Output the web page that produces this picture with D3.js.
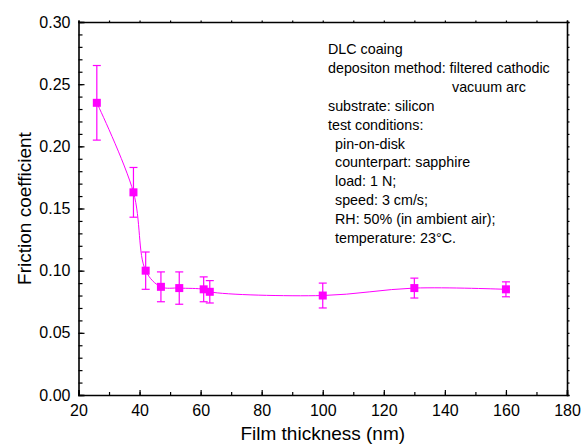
<!DOCTYPE html>
<html>
<head>
<meta charset="utf-8">
<script src="https://cdn.jsdelivr.net/npm/d3@7"></script>
<style>
  body { margin: 0; background: #fff; }
  text { font-family: "Liberation Sans", Arial, sans-serif; }
</style>
</head>
<body>
<div id="chart"></div>
<script>
// film thickness (nm) vs friction coefficient
var thickness = [26, 38, 42, 47, 53, 61, 63, 100, 130, 160];
var friction = [0.235, 0.163, 0.100, 0.087, 0.086, 0.085, 0.083, 0.080, 0.086, 0.085];
var errors = [0.030, 0.020, 0.015, 0.012, 0.013, 0.010, 0.009, 0.010, 0.008, 0.006];

var xTicks = [20, 40, 60, 80, 100, 120, 140, 160, 180];
var yTicks = [0.00, 0.05, 0.10, 0.15, 0.20, 0.25, 0.30];

var noteLines = [
  "DLC coaing",
  "depositon method: filtered cathodic",
  "vacuum arc",
  "substrate: silicon",
  "test conditions:",
  "pin-on-disk",
  "counterpart: sapphire",
  "load: 1 N;",
  "speed: 3 cm/s;",
  "RH: 50% (in ambient air);",
  "temperature: 23\u00b0C."
];
var noteIndent = [0, 0, 2, 0, 0, 1, 1, 1, 1, 1, 1];

var width = 587, height = 445;
var margin = {left: 78.5, right: 20, top: 22, bottom: 50};
var color = "#ff00ff";

var svg = d3.select("#chart").append("svg")
  .attr("width", width)
  .attr("height", height);

var x = d3.scaleLinear().domain([20, 180]).range([margin.left, width - margin.right]);
var y = d3.scaleLinear().domain([0, 0.30]).range([height - margin.bottom, margin.top]);

var data = thickness.map(function (d, i) {
  return {x: d, y: friction[i], e: errors[i]};
});

// axes: ticks drawn inward on left/bottom, small outward on top/right
var minorX = d3.range(20, 181, 10);
var minorY = d3.range(0, 0.3001, 0.01);

svg.append("g")
  .attr("transform", "translate(0," + y(0) + ")")
  .call(d3.axisBottom(x).tickValues(minorX).tickSize(-3).tickFormat(""))
  .call(function (g) { g.select(".domain").remove(); });

var xAxis = svg.append("g")
  .attr("transform", "translate(0," + y(0) + ")")
  .call(d3.axisBottom(x).tickValues(xTicks).tickSize(-5).tickPadding(10).tickFormat(d3.format("d")));

svg.append("g")
  .attr("transform", "translate(" + x(20) + ",0)")
  .call(d3.axisLeft(y).tickValues(minorY).tickSize(-4).tickFormat(""))
  .call(function (g) { g.select(".domain").remove(); });

var yAxis = svg.append("g")
  .attr("transform", "translate(" + x(20) + ",0)")
  .call(d3.axisLeft(y).tickValues(yTicks).tickSize(-6).tickPadding(8).tickFormat(d3.format(".2f")));

svg.append("g")
  .attr("transform", "translate(0," + y(0.30) + ")")
  .call(d3.axisTop(x).tickValues(minorX).tickSize(1.5).tickFormat(""));

svg.append("g")
  .attr("transform", "translate(" + x(180) + ",0)")
  .call(d3.axisRight(y).tickValues(minorY).tickSize(2.5).tickFormat(""));

svg.selectAll(".domain").attr("stroke", "#000").attr("stroke-width", 1.6);
svg.selectAll(".tick line").attr("stroke", "#000").attr("stroke-width", 1.2);
xAxis.selectAll("text").attr("font-size", 16).attr("fill", "#000");
yAxis.selectAll("text").attr("font-size", 16).attr("fill", "#000");

// axis titles
svg.append("text")
  .attr("x", (x(20) + x(180)) / 2)
  .attr("y", 440)
  .attr("text-anchor", "middle")
  .attr("font-size", 19)
  .text("Film thickness (nm)");

svg.append("text")
  .attr("transform", "translate(31," + (y(0) + y(0.3)) / 2 + ") rotate(-90)")
  .attr("text-anchor", "middle")
  .attr("font-size", 19)
  .text("Friction coefficient");

// fitted curve
var line = d3.line()
  .x(function (d) { return x(d.x); })
  .y(function (d) { return y(d.y); })
  .curve(d3.curveCatmullRom.alpha(0.5));

svg.append("path")
  .datum(data)
  .attr("d", line)
  .attr("fill", "none")
  .attr("stroke", color)
  .attr("stroke-width", 1);

// error bars
var bars = svg.append("g").selectAll("g")
  .data(data)
  .enter().append("g")
  .attr("stroke", color)
  .attr("stroke-width", 1.2);

bars.append("line")
  .attr("x1", function (d) { return x(d.x); })
  .attr("x2", function (d) { return x(d.x); })
  .attr("y1", function (d) { return y(d.y - d.e); })
  .attr("y2", function (d) { return y(d.y + d.e); });

bars.append("line")
  .attr("x1", function (d) { return x(d.x) - 4; })
  .attr("x2", function (d) { return x(d.x) + 4; })
  .attr("y1", function (d) { return y(d.y + d.e); })
  .attr("y2", function (d) { return y(d.y + d.e); });

bars.append("line")
  .attr("x1", function (d) { return x(d.x) - 4; })
  .attr("x2", function (d) { return x(d.x) + 4; })
  .attr("y1", function (d) { return y(d.y - d.e); })
  .attr("y2", function (d) { return y(d.y - d.e); });

// markers
var size = 8;
svg.append("g").selectAll("rect")
  .data(data)
  .enter().append("rect")
  .attr("x", function (d) { return x(d.x) - size / 2; })
  .attr("y", function (d) { return y(d.y) - size / 2; })
  .attr("width", size)
  .attr("height", size)
  .attr("fill", color);

// annotation
svg.append("g").selectAll("text")
  .data(noteLines)
  .enter().append("text")
  .attr("x", function (d, i) { return noteIndent[i] == 2 ? 452 : 328 + noteIndent[i] * 7; })
  .attr("y", function (d, i) { return 54 + i * 18.9; })
  .attr("font-size", 14.3)
  .text(function (d) { return d; });
</script>
</body>
</html>
